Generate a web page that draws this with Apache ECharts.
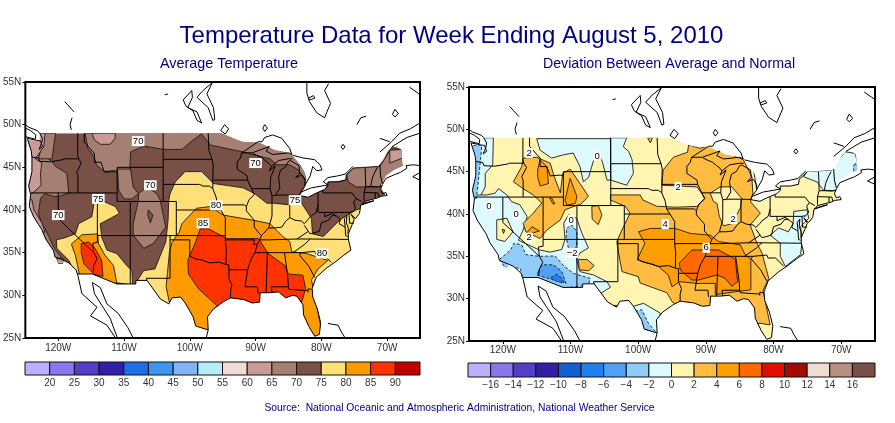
<!DOCTYPE html>
<html><head><meta charset="utf-8">
<style>html,body{margin:0;padding:0;background:#fff}#c{width:895px;height:423px}</style>
<script src="https://cdn.jsdelivr.net/npm/echarts@6/dist/echarts.min.js"></script>
</head><body><div id="c"></div>
<script>
// ---------- axis tick values ----------
const lonTicks=[-120,-110,-100,-90,-80,-70];
const latTicks=[25,30,35,40,45,50,55];
// ---------- legend ----------
const tempLegendLabels=['','20','25','30','35','40','45','50','55','60','65','70','75','80','85','90',''];
const devLegendLabels=['','−16','−14','−12','−10','−8','−6','−4','−2','0','2','4','6','8','10','12','14','16',''];
const tempLegendColors=['#bcb0ff','#8878ee','#5040c8','#3020a8','#1e6ee8','#3c96f0','#82b4f5','#b4eef8','#f0dcd2','#c89b96','#a57f71','#785046','#ffdf78','#ff9b00','#ff3200','#c00000'];
const devLegendColors=['#bcb0ff','#8878ee','#5040c8','#3020a8','#1060d0','#2080f0','#50a0f5','#90ccfa','#dcfaff','#fff5b0','#ffbc40','#ff9e00','#ff6a00','#e01000','#a00c00','#f0dcd2','#b88f80','#785046'];
// ---------- geography (lon,lat) ----------
const usOutline=[[-122.8,49],[-97,49],[-95.2,49],[-93,48.3],[-92,48],[-89.5,47.9],[-87,47],[-85.5,46.8],[-84.5,46.5],[-84,46],[-83.2,45.3],[-82.6,44.5],[-82.3,43.8],[-82.3,43],[-82.8,42.2],[-83.2,41.7],[-82,41.5],[-81,41.9],[-79.5,42.5],[-79,43.3],[-77.5,43.4],[-76.3,43.6],[-76.2,44.2],[-75,45],[-71.3,45.2],[-70.5,46],[-70,46.8],[-69.2,47.5],[-68.2,47.3],[-67.8,47],[-67.7,45.6],[-67.6,45.2],[-69,44.7],[-70.2,44],[-70.9,43],[-70.9,42.5],[-70.2,41.8],[-71.5,41.4],[-73.5,41],[-72,41],[-74,40.6],[-74.2,39.6],[-75,38.9],[-75.3,38.3],[-75.9,37.2],[-75.9,36.6],[-75.5,35.3],[-76.6,34.7],[-77.9,33.9],[-79.2,33.2],[-80.8,32.1],[-81.4,30.8],[-81.3,29.8],[-80.6,28.4],[-80.1,26.8],[-80.3,25.4],[-81,25.2],[-81.8,26.2],[-82.7,27.7],[-82.8,28.9],[-83.7,29.9],[-84.4,30],[-85.4,29.7],[-86.5,30.4],[-88,30.3],[-89.3,30.3],[-89.4,29.2],[-90.5,29.1],[-91.8,29.5],[-93.8,29.7],[-94.8,29.3],[-96.4,28.4],[-97.3,27.5],[-97.2,25.95],[-99.1,26.4],[-99.5,27.5],[-100.7,29.1],[-101.4,29.8],[-102.7,29.7],[-103.2,29],[-104.5,29.6],[-106.5,31.75],[-108.2,31.75],[-108.2,31.33],[-111.1,31.33],[-114.8,32.5],[-117.1,32.5],[-117.3,33],[-118.4,33.8],[-119.2,34.1],[-119.3,33.7],[-120,33.7],[-120.4,34.5],[-120.7,35.2],[-121.9,36.6],[-122.5,37.7],[-123,38.3],[-123.8,39.3],[-124.4,40.4],[-124.2,41.8],[-124.5,42.8],[-124,44.5],[-124,46.2],[-124.1,46.9],[-124.7,48.2],[-123.2,48.1],[-122.8,48.2]];
const westCoast=[[-124.7,48.4],[-124.1,46.9],[-124,46.2],[-124,44.5],[-124.5,42.8],[-124.2,41.8],[-124.4,40.4],[-123.8,39.3],[-123,38.3],[-122.5,37.7],[-121.9,36.6],[-120.7,35.2],[-120.5,34.5],[-119.2,34.1],[-118.4,33.8],[-117.3,33],[-117.1,32.5],[-117,32.3],[-116.4,30.2],[-114.1,28.6],[-115.1,27.6],[-112.6,26.5],[-111.3,25]];
const bajaEast=[[-114.8,31.5],[-114.5,30.2],[-113.6,29.1],[-112.1,27.3],[-111,25]];
const mexicoWest=[[-114.8,31.5],[-113.6,30.9],[-112.6,29],[-110.9,27.9],[-109.4,26.2],[-108.6,25]];
const pugetSound=[[-124.7,48.4],[-123.2,48.15],[-122.7,48.1],[-122.4,47.4],[-122.9,47.1],[-122.5,47.9],[-122.4,48.4],[-122.8,49],[-123.2,49.3],[-124.5,49.7],[-125,50]];
const vancouverIsland=[[-125,48.6],[-123.5,48.3],[-123.4,48.8],[-124.2,49.3],[-125,49.6]];
const gulfCoast=[[-117.1,32.5],[-114.8,32.5],[-114.8,32.5],[-111.1,31.33],[-108.2,31.33],[-108.2,31.75],[-106.5,31.75],[-104.5,29.6],[-103.2,29],[-102.7,29.7],[-101.4,29.8],[-100.7,29.1],[-99.5,27.5],[-99.1,26.4],[-97.2,25.95],[-97.5,25],[-97.7,25]];
const texasToFlorida=[[-97.2,25.95],[-97.3,27.5],[-96.4,28.4],[-94.8,29.3],[-93.8,29.7],[-91.8,29.5],[-90.5,29.1],[-89.4,29.2],[-89.3,30.3],[-88,30.3],[-86.5,30.4],[-85.4,29.7],[-84.4,30],[-83.7,29.9],[-82.8,28.9],[-82.7,27.7],[-81.8,26.2],[-81,25.2],[-80.3,25.4],[-80.1,26.8],[-80.6,28.4],[-81.3,29.8],[-81.4,30.8],[-80.8,32.1],[-79.2,33.2],[-77.9,33.9],[-76.6,34.7],[-75.5,35.3],[-75.9,36.6],[-75.9,37.2],[-75.3,38.3],[-75,38.9],[-75.5,39.5],[-74.8,39],[-74.2,39.6],[-74,40.6],[-73,40.9],[-72,41.1],[-72.3,41],[-73.9,40.6],[-73.5,41],[-71.5,41.4],[-71,41.6],[-70,41.7],[-70.2,42.05],[-70.7,41.9],[-71,42.4],[-70.7,43],[-70.2,43.7],[-69,44.1],[-68,44.4],[-67,44.9],[-67.1,45.2],[-66,45.3],[-65,45.2]];
const chesapeake=[[-75.95,37.2],[-75.9,37.9],[-76.2,38.5],[-76.1,39.4],[-76.5,39],[-76.4,38.2],[-76.3,37],[-76,36.9]];
const bahamas=[[-79,26.7],[-77.45,26.5],[-76.95,25.7],[-76.45,25.1]];
const superiorSouth=[[-92.1,46.7],[-90.5,46.7],[-88.4,47.3],[-87.9,47.45],[-88.4,46.9],[-87.4,46.5],[-85,46.7],[-84.4,46.5]];
const superiorNorth=[[-92.1,46.7],[-89.6,48],[-89,48],[-88.6,48.5],[-87.4,48.8],[-86,48.4],[-84.8,47.2],[-84.5,46.5]];
const michiganEast=[[-87,41.7],[-86.3,42.6],[-86.5,43.8],[-86.2,44.7],[-85.5,45],[-85,45.7],[-84.7,45.8],[-83.4,45.2],[-83.3,44.3],[-83.9,43.8],[-83,44.1],[-82.5,43.5],[-82.5,42.8],[-83.1,42.2],[-83.4,41.7],[-82,41.5],[-81,41.9],[-79.5,42.4],[-79,42.8],[-79,43.3],[-77.5,43.3],[-76.3,43.5],[-76.2,44.1],[-75,45]];
const michiganWest=[[-87,41.7],[-87.5,41.7],[-87.8,42.5],[-87.7,43.8],[-87,45.2],[-87.9,44.6],[-87.6,45.1],[-86.5,45.8],[-85,46],[-84.4,46]];
const ontarioShore=[[-83.1,42.1],[-81.5,42.6],[-80,42.8],[-79,42.95],[-79.7,43.3],[-79,43.8],[-77.5,44],[-76.4,44.2],[-75.2,45.1]];
const huronEast=[[-82.5,42.9],[-81.7,44],[-81.3,45.1],[-80.7,44.6],[-79.9,44.7],[-80.2,45.3],[-81,45.9],[-82.8,46.1],[-84.3,46.4]];
const stLawrenceNorth=[[-71.1,46.8],[-69.3,48],[-68.1,49],[-66.5,49.5],[-65,50.2]];
const stLawrenceSouth=[[-69.3,47.4],[-67,48.5],[-65,49]];
const saguenay=[[-71.1,48.4],[-69.6,48]];
const novaScotia=[[-65,44.4],[-66.1,43.9],[-65,43.5]];
const jamesBayWest=[[-82.2,54.9],[-82.2,53.7],[-81.8,52.7],[-80.7,51.4],[-79.5,50.8]];
const jamesBayEast=[[-79.5,50.8],[-79.2,51.4],[-78.6,52.5],[-79.5,54],[-78.9,54.8]];
const akimiski=[[-82,53.1],[-81.2,53.4],[-81,53.1],[-81.8,52.9],[-82,53.1]];
const lakeManitoba=[[-101,52.9],[-99.7,54],[-99.6,53.2],[-100.3,52],[-98.9,51.5],[-98.2,50.2],[-98.9,50.5],[-99.5,51.6],[-100.6,52.2],[-101,52.9]];
const lakeWinnipeg=[[-98,54],[-98.9,53.2],[-97.2,52],[-96.5,50.5],[-96.2,50.6],[-96.4,52],[-97.4,53.6],[-96.6,54.9],[-98,54]];
const lakeNipigon=[[-88.9,49.6],[-88.6,50],[-88.2,49.6],[-88.6,49.2],[-88.9,49.6]];
const lakeOfWoods=[[-95.3,49.3],[-94.7,50],[-94.1,49.5],[-94.6,48.9],[-95.3,49.3]];
const arrowLakeA=[[-119,52.7],[-117.6,51.5]];
const arrowLakeB=[[-117.9,50.8],[-118.2,50],[-118,49.4]];
const reindeerSpot=[[-103.8,53.5],[-103.3,53.6]];
const quebecLakeA=[[-74.6,50],[-74,50.8],[-73.2,51]];
const quebecLakeB=[[-69.2,51.2],[-68.8,51.8],[-68.3,51.3],[-68.8,50.9],[-69.2,51.2]];
const quebecSpot=[[-77,47.4],[-76.7,47.7],[-76.4,47.4],[-76.7,47.1],[-77,47.4]];
const labradorCoast=[[-66.6,54.4],[-65.5,53.8],[-65,53.5]];
// state lines
const waOr=[[-124,46.2],[-123,46.1],[-122.8,45.7],[-121.2,45.65],[-119.3,45.9],[-119,46],[-116.9,46]];
const idWest=[[-117.03,49],[-117.04,46.4],[-116.9,46],[-116.5,45.5],[-117.2,44.4],[-117,44],[-117,42]];
const lat42=[[-124.2,42],[-111.05,42]];
const caEast=[[-120,42],[-120,39],[-114.6,35],[-114.1,34.3],[-114.6,33.5],[-114.7,32.7]];
const nvEast=[[-114.05,42],[-114.05,36.2],[-114.75,36.1],[-114.6,35]];
const lat37=[[-114.05,37],[-94.6,37]];
const azNm=[[-109.05,41],[-109.05,31.33]];
const utWy=[[-111.05,45],[-111.05,41],[-102.05,41],[-102.05,37]];
const lat45=[[-111.05,45],[-104.05,45]];
const neWy=[[-104.05,41],[-104.05,49]];
const sdNe=[[-104.05,43],[-98.5,43],[-98,42.8],[-97,42.8],[-96.5,42.5]];
const ndSd=[[-104.05,45.94],[-96.6,45.94]];
const mtId=[[-116.05,49],[-116.05,48],[-114.5,46.6],[-114.5,45.6],[-113.5,45.6],[-113,44.5],[-111.5,44.6],[-111.05,44.5]];
const nmTx=[[-103,37],[-103,32],[-106.6,32],[-106.5,31.75]];
const okTx=[[-103,36.5],[-100,36.5],[-100,34.6],[-99.2,34.3],[-98,34.1],[-97,33.8],[-95.5,33.9],[-94.5,33.6]];
const ksNe=[[-102.05,40],[-95.3,40]];
const ksMo=[[-94.6,39.1],[-94.6,36.5],[-94.45,35.4],[-94.5,33.6],[-94.05,33.55],[-94.05,32],[-93.6,31.2],[-93.8,30.5],[-93.8,29.7]];
const arLa=[[-94.05,33],[-91.2,33]];
const moAr=[[-94.6,36.5],[-90.15,36.5],[-90.35,36],[-89.7,36]];
const msRiver=[[-91.6,31],[-91.2,33],[-90.8,34],[-90.1,35],[-89.7,36],[-89.1,37],[-89.5,37.3],[-90.2,38],[-90.2,38.8],[-91.4,39.9],[-91.4,40.4],[-91,41.2],[-90.2,41.8],[-90.6,42.5],[-91.2,43.5],[-91.3,44],[-92.8,44.8],[-92.8,45.6],[-92.3,46.1],[-92.1,46.7]];
const moIa=[[-95.8,40.6],[-91.7,40.6],[-91.4,40.4]];
const moRiver=[[-94.6,39.1],[-95.3,40],[-95.8,40.6],[-96,41.5],[-96.5,42.5],[-96.5,43.5],[-96.45,45.3],[-96.6,45.9],[-97.1,47],[-97.2,49]];
const iaMn=[[-96.5,43.5],[-91.2,43.5]];
const wiIl=[[-90.6,42.5],[-87.8,42.5]];
const wiMi=[[-90.4,46.6],[-89,46.1],[-87.9,45.4],[-87.6,45.1]];
const ilIn=[[-87.5,41.7],[-87.5,39.3],[-88,37.9]];
const ohioRiver=[[-89.1,37],[-88,37.9],[-87,37.9],[-86,38],[-85.4,38.7],[-84.8,39.1],[-84,38.8],[-83,38.7],[-82.6,38.4],[-82,38.9],[-81.7,39.2],[-80.8,39.7],[-80.5,40.6]];
const inOh=[[-84.8,39.1],[-84.8,41.7]];
const miSouth=[[-87,41.75],[-84.8,41.75],[-83.4,41.72]];
const ohPa=[[-80.5,39.72],[-80.5,42]];
const masonDixon=[[-80.5,39.72],[-75.8,39.72],[-75.4,39.8]];
const paNy=[[-79.76,42.25],[-79.76,42],[-75.35,42],[-74.7,41.35],[-75.1,40.9],[-74.8,40.2],[-75.5,39.6]];
const njNy=[[-74.7,41.35],[-73.9,41]];
const nyEast=[[-73.5,41.1],[-73.5,42.05],[-73.25,42.75],[-73.3,44],[-73.35,45]];
const maCt=[[-73.5,42.05],[-71.4,42],[-71.2,41.5]];
const maNorth=[[-73.25,42.75],[-72.5,42.75],[-71.3,42.7],[-70.8,42.85]];
const vtNh=[[-72.5,42.75],[-72.3,43.6],[-72,44.2],[-71.5,45]];
const nhMe=[[-70.7,43.1],[-71,44],[-71.1,45.3]];
const ctRi=[[-71.8,42],[-71.8,41.35]];
const kyTn=[[-89.5,36.5],[-88,36.5],[-83.7,36.6],[-81.7,36.6],[-75.9,36.55]];
const tnNc=[[-81.7,36.6],[-82.5,36],[-84.3,35]];
const lat35=[[-90.1,35],[-83.1,35]];
const msAl=[[-88.2,35],[-88.4,30.3]];
const alGa=[[-85.6,35],[-85.1,32.2],[-85,31]];
const flNorth=[[-87.6,31],[-85,31],[-84.9,30.7],[-82.2,30.55],[-82,30.4],[-82.05,30.75],[-81.5,30.7]];
const flAl=[[-87.6,31],[-87.5,30.3]];
const laMs=[[-91.6,31],[-89.7,31],[-89.6,30.2]];
const gaSc=[[-83.1,35],[-83.3,34.7],[-81.9,33.4],[-81,32.1]];
const ncSc=[[-83.1,35],[-81,35.15],[-80.8,34.8],[-79.7,34.8],[-78.5,33.85]];
const kyVa=[[-83.7,36.6],[-81.97,37.5],[-82.6,38.2]];
const wvVa=[[-81.97,37.5],[-81.7,37.2],[-80.3,37.5],[-80,38.5],[-78.9,38.8],[-78.3,39.4],[-77.8,39.3]];
const mdWv=[[-79.48,39.72],[-79.48,39.2],[-78.3,39.6],[-77.7,39.3],[-77.1,38.9],[-77.3,38.4],[-76.4,38]];
const mdDe=[[-75.8,39.72],[-75.7,38.45],[-75.05,38.45]];
const geoLines=[westCoast,bajaEast,mexicoWest,pugetSound,vancouverIsland,gulfCoast,texasToFlorida,chesapeake,bahamas,superiorSouth,superiorNorth,michiganEast,michiganWest,ontarioShore,huronEast,stLawrenceNorth,stLawrenceSouth,saguenay,novaScotia,jamesBayWest,jamesBayEast,akimiski,lakeManitoba,lakeWinnipeg,lakeNipigon,lakeOfWoods,arrowLakeA,arrowLakeB,reindeerSpot,quebecLakeA,quebecLakeB,quebecSpot,labradorCoast,waOr,idWest,lat42,caEast,nvEast,lat37,azNm,utWy,lat45,neWy,sdNe,ndSd,mtId,nmTx,okTx,ksNe,ksMo,arLa,moAr,msRiver,moIa,moRiver,iaMn,wiIl,wiMi,ilIn,ohioRiver,inOh,miSouth,ohPa,masonDixon,paNy,njNy,nyEast,maCt,maNorth,vtNh,nhMe,ctRi,kyTn,tnNc,lat35,msAl,alGa,flNorth,flAl,laMs,gaSc,ncSc,kyVa,wvVa,mdWv,mdDe];

// ---------- average temperature contours (lon,lat) ----------
const t65Oregon=[[-125,47],[-123,47],[-120.95,45.65],[-120.4,45.1],[-118.7,44.3],[-118.4,42],[-119.9,41.6],[-120.7,41.6],[-122,41.9],[-122.7,41.4],[-123,39.6],[-122.5,38.4],[-122,37.8],[-120.6,35.5],[-119.4,34.3],[-119,33.6],[-121,33.6],[-125,38]];
const t65Washington=[[-122.5,49],[-120.4,49],[-120.95,46],[-123,46],[-122.5,47.5]];
const t65North=[[-115.9,49],[-115.5,47.2],[-114.5,46.2],[-114.2,45.3],[-112.85,44.4],[-111.1,44.5],[-109.1,44.8],[-109,46.8],[-107,47.5],[-104,47.1],[-101.2,47.1],[-99.5,48.2],[-98.2,48.9],[-96.8,47.6],[-91.9,46.8],[-87.8,46],[-86.8,45.3],[-84.8,45.3],[-83.5,44.7],[-82.3,43.5],[-81,44],[-82,46.5],[-84,48],[-90,49],[-95,49.5]];
const t65Wyoming=[[-111,44.8],[-109,44.8],[-108.6,42.7],[-107.8,41.9],[-108.8,41.3],[-110,41.3],[-110.8,42.3]];
const t65Colorado=[[-107.8,41.9],[-106.5,42.7],[-105,41.9],[-104.5,41.15],[-103.65,38],[-105.5,36.1],[-107,35.5],[-108.6,37.05],[-108.6,38.4],[-107.8,41.15]];
const t70ColoradoSpot=[[-106.3,40],[-105.6,39.4],[-106,38.5],[-106.4,39.4]];
const t65NewYork=[[-75.2,44.9],[-71.1,45.1],[-69.4,47.2],[-67.6,47],[-67,44.7],[-70.9,43.1],[-71.1,42.7],[-74.7,42.7],[-75.9,43.3],[-76.2,44.3]];
const t60Maine=[[-69.6,47],[-67.7,47.1],[-67.3,46.2],[-69.6,45.5]];
const t60Coast=[[-125,49],[-122,49],[-122.2,47.4],[-123.5,46],[-122.5,45.5],[-122.7,44.3],[-122.6,42.9],[-124,41.9],[-125,41.9]];
const t60Glacier=[[-114.9,49],[-111.35,49],[-111.35,48.4],[-112.1,47.7],[-113.6,47.7],[-114.5,48.2]];
const t60California=[[-125,41.2],[-124,41.2],[-123.7,40],[-122.5,38.5],[-122,37.4],[-123,37.5],[-125,40]];
const t60South=[[-120.2,34.4],[-119.2,34.3],[-119.2,33.7],[-120.2,33.7]];
const t75West=[[-120.3,36.5],[-119.2,36.7],[-117.4,37.2],[-116.9,38.4],[-114.9,39.2],[-114.6,40.6],[-114.5,41],[-113.1,41],[-111.3,40.4],[-110.7,39.6],[-112.1,39],[-113.6,38.4],[-113.4,36.85],[-112.6,35.3],[-111.1,34.9],[-109.6,33.5],[-108.8,32.9],[-108.7,31.2],[-117.1,32.15],[-118.4,34.1],[-120.2,35.5]];
const t75East=[[-108.6,31],[-107,32.9],[-105.3,33.1],[-103.65,36.25],[-103.3,38.8],[-103.2,41.15],[-103,41.9],[-102.2,43.3],[-100.7,44.5],[-98.2,44.5],[-96.4,43.1],[-91.9,42.6],[-90.1,41.9],[-88.3,40.8],[-87.3,40.8],[-84.8,40.6],[-83.3,41.15],[-81.5,39],[-81.35,37.2],[-79.7,36.9],[-77.5,38.6],[-76.2,39.4],[-74.7,40],[-74,40.2],[-73,39],[-74,35],[-80,28],[-90,24],[-100,24],[-106,28]];
const t80West=[[-118,36],[-116.4,37.1],[-114,37.2],[-113.9,36.1],[-112.9,34.7],[-111.6,33.5],[-111.1,31.4],[-116.65,31.8],[-117,33.3],[-117.4,34.7]];
const t80East=[[-101.2,38.4],[-99,40.2],[-96.9,40.4],[-94.9,39.4],[-90.35,38.8],[-87.8,38.4],[-85.8,36.85],[-84.8,36.3],[-84.5,35.1],[-82.3,34.9],[-79,34.1],[-80.5,33.1],[-81.5,31.8],[-81,30],[-79.5,24],[-83,24],[-84,29],[-90,27],[-96,25],[-98,25],[-103,28.8],[-103.6,31],[-103.1,35],[-102.7,36.2],[-102,37],[-101.6,37.4]];
const t85West=[[-116.5,36.05],[-115.4,36.25],[-114.4,35.5],[-113.4,34.1],[-113.2,32.2],[-114.6,32.5],[-116.1,33.7],[-116.5,35.1]];
const t85East=[[-98.4,37.8],[-97.2,37.8],[-95.65,37.2],[-94.4,36.65],[-89.6,36.65],[-89.35,36.45],[-88.1,34.9],[-85.55,33.5],[-85,32.5],[-82.8,32.35],[-82.4,30.8],[-82.9,29.4],[-84,28],[-92,27],[-97,27],[-95.9,28.8],[-98.7,30.8],[-100.2,32.5],[-100.3,34.1],[-99.3,35.9]];

// ---------- deviation contours (lon,lat) ----------
const dM0North=[[-115,48.9],[-114.5,47.55],[-112.8,46.6],[-111,47],[-109.6,47.2],[-108.6,45.6],[-108.1,43.8],[-107.35,44.3],[-106.6,46.3],[-105.9,47],[-105.3,46.2],[-104.6,44],[-104,44],[-104,48.9]];
const dM0Dakota=[[-104.1,49],[-101.7,49],[-102.2,47.95],[-101.4,47.4],[-100.9,46.4],[-100.7,44.8],[-101.7,43.4],[-104.05,44]];
const dP2MinnesotaSpot=[[-98.6,49],[-97.9,49],[-98.2,48.4]];
const dM0Coast=[[-125,49],[-121.4,49],[-121.5,45.8],[-122.6,44.8],[-122.6,43.2],[-123.5,41.85],[-125,41.85]];
const dM0West=[[-123.5,42.25],[-122.4,42.25],[-121.15,42.45],[-120.65,43],[-119.4,42.25],[-118.7,41.45],[-117.5,41.1],[-116.4,39.7],[-117,38.1],[-117.7,36.9],[-114.6,35.75],[-113,35.5],[-111.3,35.8],[-110.8,37],[-111,38.9],[-110.3,39.9],[-109.1,39.5],[-108.3,37.7],[-107.35,36],[-108.6,35.4],[-109.1,34.6],[-108.6,33.2],[-106.6,32.8],[-104.6,32],[-104.1,31.35],[-105.6,30.6],[-109,30],[-117,30],[-125,34],[-125,42]];
const dP0Sierra=[[-120.9,39.3],[-119.4,39.5],[-118.5,37.9],[-119.7,36.75],[-120.9,37]];
const dP2SierraSpot=[[-120.1,38.2],[-119.7,38.1],[-119.9,37.7]];
const dM2CoastStrip=[[-124.35,48.1],[-123.1,48.1],[-123.3,46.4],[-123.6,44],[-123.9,41.85],[-124.9,41.85],[-125,48]];
const dM2Southwest=[[-120.5,34.65],[-118.9,35.7],[-118.35,36.55],[-117.2,36.35],[-116.6,35.2],[-114.6,35],[-112.3,35.05],[-111,33.9],[-109.6,33],[-107.1,32.4],[-107.35,31.6],[-111.55,31.2],[-117,32.2],[-117.45,33.6],[-119.7,33.7]];
const dM2Utah=[[-110.55,38.3],[-109.8,38.7],[-109.05,37.9],[-109,36.75],[-109.3,35.8],[-110.3,35.95],[-110.65,37.35]];
const dM4Arizona=[[-114.75,33.2],[-114.25,34],[-112.5,34],[-111.3,33.2],[-110.65,31.8],[-112.5,32.2],[-115,32.8]];
const dM6Arizona=[[-112.9,32.5],[-112,32.9],[-111.2,32.3],[-111,31.9],[-112,32]];
const dM0Texas=[[-100.95,29.05],[-99.2,29.45],[-96.75,28.3],[-97,25],[-99,25],[-100,28]];
const dM2Texas=[[-100.45,28.5],[-99.45,28.7],[-98.5,27.1],[-97.2,25.9],[-98.7,26.3],[-99.7,27.1]];
const dP2BigBend=[[-103.6,29.2],[-103.2,29.2],[-103.3,28.9]];
const dM0NewEngland=[[-75.55,44.4],[-75.05,45],[-71.35,45.2],[-70.6,46.2],[-69.4,47.35],[-67.9,47.15],[-67.4,45.2],[-68.65,44.4],[-70.85,42.75],[-72.6,42.8],[-73.6,43.8]];
const dM2Maine=[[-67.9,46],[-67.3,45.2],[-68.1,44.9],[-68.2,45.6]];
const dM0Huron=[[-83,45.5],[-82,45],[-82,43],[-82.5,43]];
const dM0Virginia=[[-77,40.3],[-75.05,40.5],[-74.8,39.5],[-76,38.5],[-75.8,36.55],[-76,35.2],[-78.25,33.8],[-79,35],[-79,36.55],[-80.5,37.5],[-79.25,38.35],[-77.8,37.9],[-77.1,38.9]];
const dP2Idaho=[[-118.44,43.8],[-117.2,45.6],[-117,46.6],[-115,46.7],[-113,46],[-112.4,44.4],[-111.5,42.5],[-111.15,44.8],[-110.05,45.3],[-108.6,43.6],[-107.35,42.1],[-108.6,41.05],[-108.8,41.1],[-110.8,40.5],[-111.5,39.3],[-113.5,38.1],[-114.5,37.1],[-116.6,37.9],[-117,38.9],[-115.5,40.1],[-114.25,41.3],[-115.5,42.25],[-117,43]];
const dP4Idaho=[[-114.85,45.2],[-114.5,46.4],[-113.5,45.6],[-113.25,43.6],[-114.5,43.3],[-114.85,44.4]];
const dP4Wyoming=[[-110.8,41.65],[-110.05,44.2],[-109.05,42.05],[-109.3,41.25],[-110.55,41.05]];
const dP4Utah=[[-113.1,41.9],[-112.8,41.9],[-112.3,41.2],[-112.6,41.2]];
const dP4Nevada=[[-116.55,37.7],[-115.7,38.5],[-114.6,38],[-116,37.65]];
const dP2Colorado=[[-106.85,40.9],[-105.9,41],[-105.35,39.9],[-105.9,38.75],[-106.8,39.4]];
const dP2Arizona=[[-108.85,34.65],[-107.5,34.6],[-106.5,33.9],[-107.3,33.3],[-108.7,33.4]];
const dP2Central=[[-104.1,41.66],[-104.1,42.25],[-99.7,42.25],[-99.3,41.65],[-97.2,40.9],[-96.75,40.9],[-94.5,40.8],[-91.3,40.9],[-90.1,41.85],[-91.3,43.2],[-96.5,43.4],[-96.3,45.2],[-94.8,46.7],[-92.7,47.3],[-92.55,48.15],[-90.85,47.75],[-89.35,48.15],[-84.45,46.4],[-83.2,44.4],[-83.05,42.45],[-83.4,41.45],[-81.95,40.1],[-83.45,38.7],[-82.45,36.55],[-81.7,35.4],[-80.7,32.4],[-81.55,31],[-80.5,26.9],[-82,27.1],[-83,27],[-90,26],[-92,27],[-93.8,29],[-95,29.65],[-95.75,30.7],[-99.7,31.85],[-100,32.6],[-102.4,33.2],[-103.1,36.35],[-103.15,36.75],[-102.4,38.1],[-101.2,40.1],[-101.9,40.9]];
const dP0Illinois=[[-89.35,42.45],[-87.9,43.2],[-86.15,43.2],[-84.7,41.85],[-84.9,40.7],[-86.15,38.85],[-87.4,38.6],[-88,39.7],[-88.35,41.25],[-88.9,41.5]];
const dP4Central=[[-99.95,37.9],[-98.2,38.3],[-94.5,38.3],[-92.3,37.7],[-89.35,37.5],[-88.1,36.75],[-84.9,36.35],[-84.2,35.2],[-83.35,34.65],[-83.35,31.05],[-88.6,30.5],[-88.6,31.8],[-91.3,31.8],[-93.9,32],[-95,31.4],[-95.55,32.8],[-97,33.8],[-100.15,34.6],[-99,36.55]];
const dP6Central=[[-93.9,34.2],[-92.05,35.75],[-88.1,35.75],[-85.65,34.65],[-85.3,32],[-86.15,31.45],[-87.15,32.4],[-88.35,32.8],[-91.1,32.2],[-92.05,32.2],[-93.8,33.4]];

// ---------- contour labels: [lon, lat, text] ----------
const tempLabels=[[-107.85,48.07,'70'],[-106,42.9,'70'],[-120,39.4,'70'],[-113.9,41.3,'75'],[-98,38.45,'85'],[-79.9,34.9,'80'],[-96,40.55,'80'],[-84,41.15,'75'],[-90,45.5,'70']];
const devLabels=[[-116.1,47.2,'2'],[-106.05,46.85,'0'],[-122.05,40.95,'0'],[-118.05,39.9,'0'],[-109.9,39.3,'0'],[-109.75,35.4,'−2'],[-116.1,37.2,'2'],[-94.1,43.2,'2'],[-85.95,39.4,'2'],[-96,38.8,'4'],[-89.95,36,'6']];

// ---------- layer drawing order ----------
const tempLayers=[
 [usOutline,'#785046'],[t65Oregon,'#a57f71'],[t65Washington,'#a57f71'],[t65North,'#a57f71'],[t65Wyoming,'#a57f71'],[t65Colorado,'#a57f71'],[t70ColoradoSpot,'#785046'],[t65NewYork,'#a57f71'],[t60Maine,'#c89b96'],[t60Coast,'#c89b96'],[t60Glacier,'#c89b96'],[t60California,'#c89b96'],[t60South,'#c89b96'],
 [t75West,'#ffdf78'],[t75East,'#ffdf78'],[t80West,'#ff9b00'],[t80East,'#ff9b00'],[t85West,'#ff3200'],[t85East,'#ff3200']];
const devLayers=[
 [usOutline,'#fff5b0'],[dM0North,'#dcfaff'],[dM0Dakota,'#dcfaff'],[dM0Coast,'#dcfaff'],[dM0West,'#dcfaff'],[dP0Sierra,'#fff5b0'],[dP2SierraSpot,'#ffbc40'],[dM2CoastStrip,'#90ccfa',1],[dM2Southwest,'#90ccfa',1],[dM2Utah,'#90ccfa',1],[dM4Arizona,'#50a0f5',1],[dM6Arizona,'#2080f0',1],[dM0Texas,'#dcfaff'],[dM2Texas,'#90ccfa',1],[dP2BigBend,'#ffbc40'],[dM0NewEngland,'#dcfaff'],[dM2Maine,'#90ccfa',1],[dM0Huron,'#dcfaff'],[dM0Virginia,'#dcfaff'],[dP2MinnesotaSpot,'#ffbc40'],
 [dP2Idaho,'#ffbc40'],[dP4Idaho,'#ff9e00'],[dP4Wyoming,'#ff9e00'],[dP4Utah,'#ff9e00'],[dP4Nevada,'#ff9e00'],[dP2Colorado,'#ffbc40'],[dP2Arizona,'#ffbc40'],[dP2Central,'#ffbc40'],[dP0Illinois,'#fff5b0'],[dP4Central,'#ff9e00'],[dP6Central,'#ff6a00']];

const FONT='"Liberation Sans",Arial,sans-serif';
function mapSeries(idx,layers,labels){
  const contour={type:'custom',coordinateSystem:'cartesian2d',xAxisIndex:idx,yAxisIndex:idx,silent:true,clip:true,
    data:layers.map((_,i)=>[i,i]),
    renderItem(p,api){
      const l=layers[api.value(0)];
      const clip=usOutline.map(q=>api.coord(q));
      return {type:'polygon',shape:{points:l[0].map(q=>api.coord(q))},
        style:{fill:l[1],stroke:l[0]===usOutline?null:'#221a14',lineWidth:0.9,lineDash:l[2]?[3,2]:null},
        clipPath:{type:'polygon',shape:{points:clip}}};
    }};
  const lines={type:'custom',coordinateSystem:'cartesian2d',xAxisIndex:idx,yAxisIndex:idx,silent:true,clip:true,
    data:geoLines.map((_,i)=>[i,i]),
    renderItem(p,api){
      const l=geoLines[api.value(0)];
      return {type:'polyline',shape:{points:l.map(q=>api.coord(q))},style:{stroke:'#000',lineWidth:1,fill:null}};
    }};
  const text={type:'custom',coordinateSystem:'cartesian2d',xAxisIndex:idx,yAxisIndex:idx,silent:true,
    data:labels.map(l=>[l[0],l[1]]),
    renderItem(p,api){
      const c=api.coord([api.value(0),api.value(1)]);
      return {type:'text',style:{text:labels[p.dataIndex][2],x:c[0],y:c[1],align:'center',verticalAlign:'middle',fill:'#000',font:'9.5px '+FONT,backgroundColor:'#fff',padding:[0,1]}};
    }};
  return [contour,lines,text];
}
function legendSeries(idx,colors){
  return {type:'custom',coordinateSystem:'cartesian2d',xAxisIndex:idx,yAxisIndex:idx,silent:true,
    data:colors.map((_,i)=>[i,i]),
    renderItem(p,api){
      const i=api.value(0),a=api.coord([i,1]),b=api.coord([i+1,0]);
      return {type:'rect',shape:{x:a[0],y:a[1],width:b[0]-a[0],height:b[1]-a[1]},style:{fill:colors[i],stroke:'#111',lineWidth:1}};
    }};
}
const mapX=(i,m)=>({gridIndex:i,type:'value',min:-125,max:-65,splitLine:{show:false},
  axisLine:{show:false},axisTick:{length:3,lineStyle:{color:'#000'},customValues:lonTicks},
  axisLabel:{customValues:lonTicks,formatter:v=>Math.abs(v)+'W',color:'#333',fontSize:10,fontFamily:FONT,margin:m}});
const mapY=i=>({gridIndex:i,type:'value',min:25,max:55,splitLine:{show:false},
  axisLine:{show:false},axisTick:{length:3,lineStyle:{color:'#000'},customValues:latTicks},
  axisLabel:{customValues:latTicks,formatter:v=>v+'N',color:'#333',fontSize:10,fontFamily:FONT,margin:4}});
const legX=(i,labels)=>({gridIndex:i,type:'value',min:0,max:labels.length-1,interval:1,splitLine:{show:false},
  axisLine:{show:false},axisTick:{show:false},
  axisLabel:{formatter:v=>labels[v],color:'#333',fontSize:10,fontFamily:FONT,margin:3,showMinLabel:true,showMaxLabel:true}});
const legY=i=>({gridIndex:i,type:'value',min:0,max:1,show:false,splitLine:{show:false}});
const ttl=(text,x,y,size)=>({text,left:x,top:y,textAlign:'center',textStyle:{color:'#000080',fontSize:size,fontWeight:'normal',fontFamily:FONT}});

const chart=echarts.init(document.getElementById('c'),null,{renderer:'canvas'});
chart.setOption({animation:false,backgroundColor:'#fff',
  title:[ttl('Temperature Data for Week Ending August 5, 2010',446.5,19,24),
         ttl('Average Temperature',224,52,14.4),
         ttl('Deviation Between Average and Normal',664,52,14.2),
         ttl('Source:  National Oceanic and Atmospheric Administration, National Weather Service',454.5,398,10.3)],
  grid:[
    {left:25,top:82,width:395,height:256,show:true,backgroundColor:'#fff',borderColor:'#000',borderWidth:2},
    {left:469,top:87,width:406,height:254,show:true,backgroundColor:'#fff',borderColor:'#000',borderWidth:2},
    {left:25,top:362,width:395,height:13},
    {left:468,top:363,width:407,height:14}],
  xAxis:[mapX(0,5),mapX(1,4),legX(2,tempLegendLabels),legX(3,devLegendLabels)],
  yAxis:[mapY(0),mapY(1),legY(2),legY(3)],
  series:[...mapSeries(0,tempLayers,tempLabels),...mapSeries(1,devLayers,devLabels),legendSeries(2,tempLegendColors),legendSeries(3,devLegendColors)]
});
</script></body></html>
